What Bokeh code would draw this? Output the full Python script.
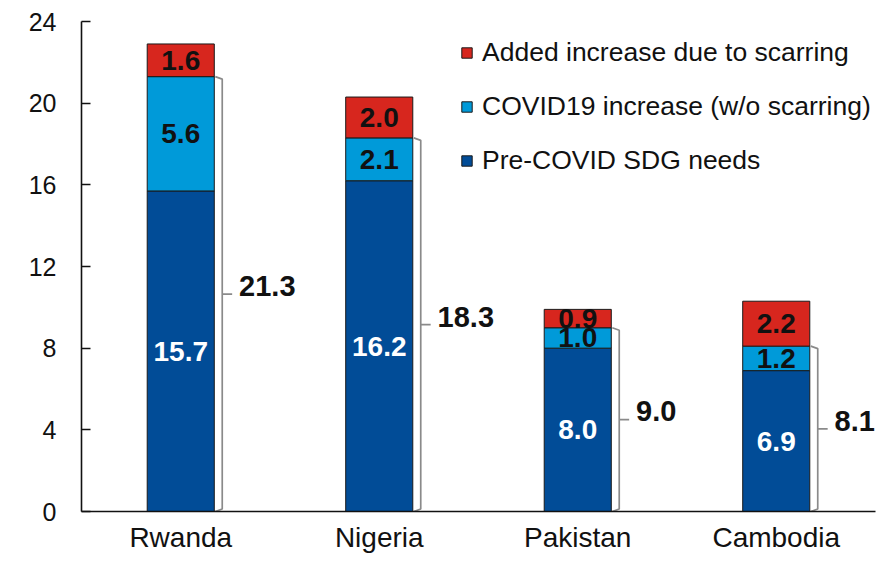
from bokeh.plotting import figure
from bokeh.models import ColumnDataSource, Range1d, FixedTicker, Legend, LegendItem
from bokeh.core.properties import value
from bokeh.embed import file_html
from bokeh.resources import INLINE

# ---- data ----
countries = ["Rwanda", "Nigeria", "Pakistan", "Cambodia"]
pre_covid = [15.7, 16.2, 8.0, 6.9]
covid_increase = [5.6, 2.1, 1.0, 1.2]
scarring = [1.6, 2.0, 0.9, 2.2]
y_ticks = [0, 4, 8, 12, 16, 20, 24]
series_names = ["Added increase due to scarring", "COVID19 increase (w/o scarring)", "Pre-COVID SDG needs"]

# ---- styles ----
C_RED = "#D7261E"
C_LBLUE = "#009AD9"
C_DBLUE = "#014C97"
FONT = "Liberation Sans"
BAR_W = 0.338

n = len(countries)
xs = [i + 0.5 for i in range(n)]
b1 = [0.0] * n
t1 = pre_covid
t2 = [a + b for a, b in zip(pre_covid, covid_increase)]
t3 = [a + b for a, b in zip(t2, scarring)]

src = ColumnDataSource(dict(x=xs, b1=b1, t1=t1, t2=t2, t3=t3))

p = figure(width=876, height=555, x_range=Range1d(0, n), y_range=Range1d(0, 24),
           output_backend="svg", toolbar_location=None,
           min_border_left=81, min_border_right=1, min_border_top=21, min_border_bottom=0)
p.outline_line_color = None
p.xgrid.grid_line_color = None
p.ygrid.grid_line_color = None
p.background_fill_color = "white"
p.border_fill_color = "white"

r_pre = p.vbar(x="x", bottom="b1", top="t1", width=BAR_W, source=src,
               fill_color=C_DBLUE, line_color="#1a1a1a", line_width=1)
r_cov = p.vbar(x="x", bottom="t1", top="t2", width=BAR_W, source=src,
               fill_color=C_LBLUE, line_color="#1a1a1a", line_width=1)
r_scar = p.vbar(x="x", bottom="t2", top="t3", width=BAR_W, source=src,
                fill_color=C_RED, line_color="#1a1a1a", line_width=1)

# segment labels
lab_dark = ColumnDataSource(dict(
    x=xs + xs,
    y=[(b + t) / 2 for b, t in zip(t1, t2)] + [(b + t) / 2 for b, t in zip(t2, t3)],
    t=[f"{v:.1f}" for v in covid_increase] + [f"{v:.1f}" for v in scarring]))
lab_white = ColumnDataSource(dict(
    x=xs, y=[t / 2 for t in t1], t=[f"{v:.1f}" for v in pre_covid]))
p.text(x="x", y="y", text="t", source=lab_dark, text_font=value(FONT), text_font_style="bold",
       text_font_size="28px", text_align="center", text_baseline="middle", text_color="#111111")
p.text(x="x", y="y", text="t", source=lab_white, text_font=value(FONT), text_font_style="bold",
       text_font_size="28px", text_align="center", text_baseline="middle", text_color="white")

# brackets for pre + covid totals
gap = 0.04
hook = 0.035
nub = 0.05
bx, by = [], []
for x, top in zip(xs, t2):
    xb = x + BAR_W / 2 + gap
    mid = top / 2
    bx.append([xb - hook, xb, xb, xb + nub, xb, xb, xb - hook])
    by.append([top, top - 0.12, mid, mid, mid, 0.12, 0])
p.multi_line(xs=bx, ys=by, line_color="#8a8a8a", line_width=1.7)

tot_src = ColumnDataSource(dict(
    x=[x + BAR_W / 2 + gap + nub + 0.035 for x in xs],
    y=[t / 2 + 0.4 for t in t2],
    t=[f"{v:.1f}" for v in t2]))
p.text(x="x", y="y", text="t", source=tot_src, text_font=value(FONT), text_font_style="bold",
       text_font_size="29px", text_align="left", text_baseline="middle", text_color="#111111")

# axes
p.yaxis.ticker = FixedTicker(ticks=y_ticks)
p.yaxis.major_tick_in = 9
p.yaxis.major_tick_out = 0
p.yaxis.minor_tick_line_color = None
p.yaxis.axis_line_width = 1.6
p.yaxis.major_tick_line_width = 1.6
p.yaxis.axis_line_color = "#111111"
p.yaxis.major_tick_line_color = "#111111"
p.yaxis.major_label_text_font = FONT
p.yaxis.major_label_text_font_size = "25px"
p.yaxis.major_label_text_color = "#111111"
p.yaxis.major_label_standoff = 25

p.xaxis.ticker = FixedTicker(ticks=xs)
p.xaxis.major_label_overrides = {x: c for x, c in zip(xs, countries)}
p.xaxis.major_tick_line_color = None
p.xaxis.minor_tick_line_color = None
p.xaxis.axis_line_width = 1.6
p.xaxis.axis_line_color = "#111111"
p.xaxis.major_label_text_font = FONT
p.xaxis.major_label_text_font_size = "28px"
p.xaxis.major_label_text_color = "#111111"
p.xaxis.major_label_standoff = 4

legend = Legend(items=[LegendItem(label=series_names[0], renderers=[r_scar]),
                       LegendItem(label=series_names[1], renderers=[r_cov]),
                       LegendItem(label=series_names[2], renderers=[r_pre])],
                location=(379, 335), orientation="vertical",
                glyph_width=13, glyph_height=13, label_standoff=9, spacing=23,
                padding=0, margin=0, border_line_color=None, background_fill_alpha=0,
                label_text_font=FONT, label_text_font_size="26.5px", label_text_color="#111111")
p.add_layout(legend, "center")

open("out.html", "w").write(file_html(p, INLINE))
